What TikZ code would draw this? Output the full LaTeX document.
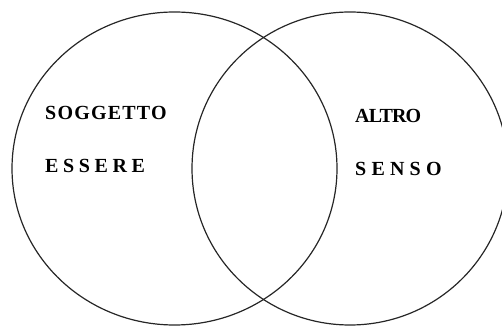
\documentclass[tikz,border=0pt]{standalone}
\usepackage{fontspec}
\setmainfont{Liberation Serif}
\begin{document}
\begin{tikzpicture}[x=1pt,y=-1pt,
  ring/.style={draw=black!85,line width=1.2pt},
  word/.style={anchor=base west,inner sep=0pt,font=\fontsize{20}{20}\selectfont\bfseries}]
\useasboundingbox (0,0) rectangle (502,328);
\draw[ring] (174.5,168.5) ellipse [x radius=162.5, y radius=156.5];
\draw[ring] (350,168.5) ellipse [x radius=158, y radius=156.5];
\node[word] (sog) at (45,119.5) {\addfontfeature{LetterSpace=6}SOGGETTO};
\node[word] (ess) at (45,172.5) {\addfontfeature{LetterSpace=23}ESSERE};
\node[word] (alt) at (355,123) {\addfontfeature{LetterSpace=-4}ALTRO};
\node[word] (sen) at (355,176) {\addfontfeature{LetterSpace=26}SENSO};
\end{tikzpicture}
\end{document}
